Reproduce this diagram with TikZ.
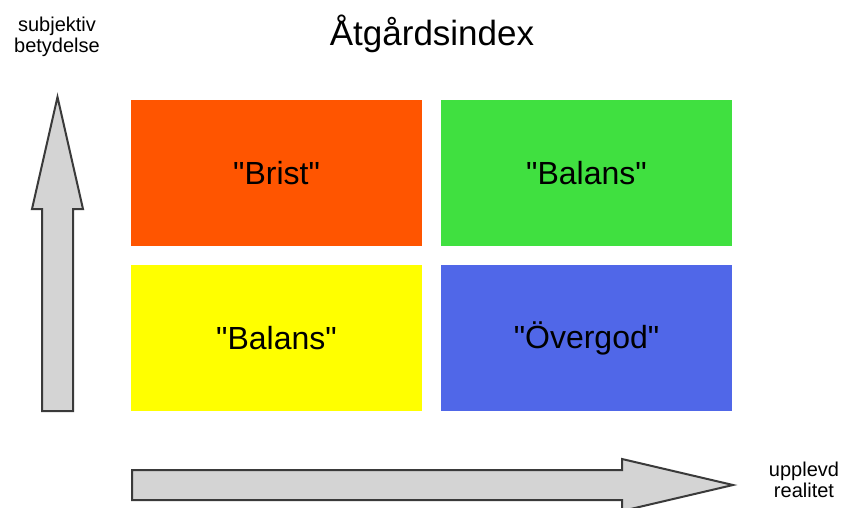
\documentclass[tikz,border=0pt]{standalone}
\usepackage{fontspec}
\setmainfont{Liberation Sans}
\definecolor{cOrange}{HTML}{FF5500}
\definecolor{cGreen}{HTML}{40E040}
\definecolor{cYellow}{HTML}{FFFF00}
\definecolor{cBlue}{HTML}{5067E8}
\definecolor{cArrowFill}{HTML}{D4D4D4}
\definecolor{cArrowLine}{HTML}{3A3A3A}
\newcommand{\sq}{\textquotedbl}
\tikzset{
  cell/.style={minimum width=291pt, minimum height=146pt, inner sep=0pt, draw=none, font=\fontsize{32}{36}\selectfont},
  bigarrow/.style={fill=cArrowFill, draw=cArrowLine, line width=2pt, line join=miter},
  axislabel/.style={align=center, inner sep=0pt, font=\fontsize{20}{21}\selectfont},
}
\begin{document}
\begin{tikzpicture}[x=1pt,y=-1pt]
\useasboundingbox (0,0) rectangle (843,508);
\fill[white] (0,0) rectangle (843,508);
% title
\node[anchor=base, inner sep=0pt, font=\fontsize{35}{40}\selectfont] (title) at (432,46) {Åtgårdsindex};
% cells
\node[cell, fill=cOrange] (brist) at (276.5,173) {\sq Brist\sq};
\node[cell, fill=cGreen] (balans1) at (586.5,173) {\sq Balans\sq};
\node[cell, fill=cYellow] (balans2) at (276.5,338) {\sq Balans\sq};
\node[cell, fill=cBlue] (overgod) at (586.5,338) {\sq Övergod\sq};
% vertical arrow
\draw[bigarrow] (42,411) -- (42,209) -- (32,209) -- (57.5,97) -- (83,209) -- (73,209) -- (73,411) -- cycle;
% horizontal arrow
\draw[bigarrow] (132,470) -- (622,470) -- (622,459) -- (733,485) -- (622,511) -- (622,500) -- (132,500) -- cycle;
% axis labels
\node[axislabel] (ylab) at (57,37) {subjektiv\\betydelse};
\node[axislabel] (xlab) at (804,480) {upplevd\\realitet};
\end{tikzpicture}
\end{document}
